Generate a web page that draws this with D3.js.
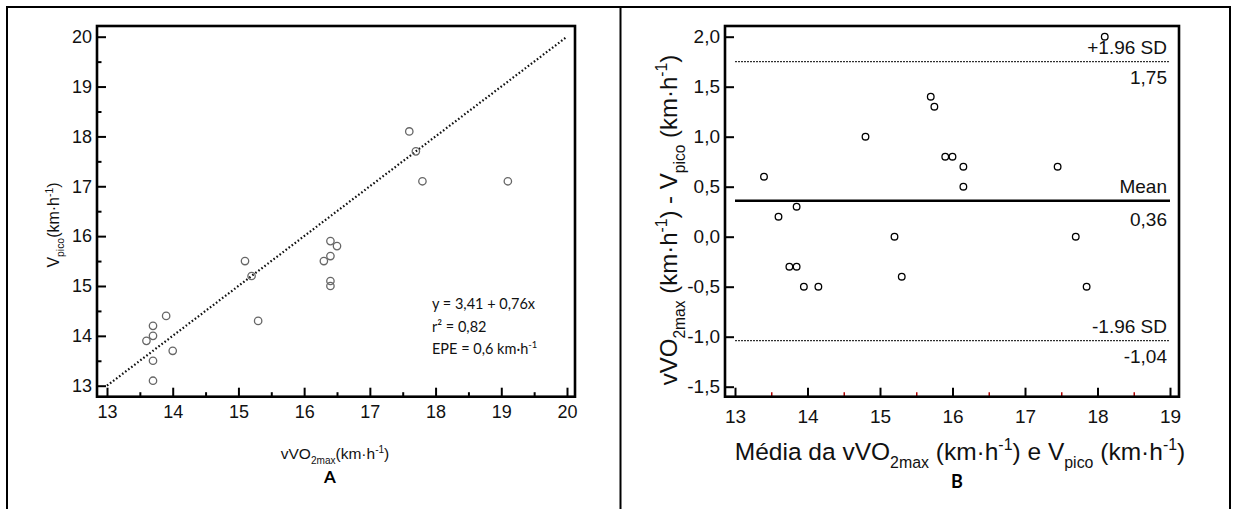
<!DOCTYPE html>
<html><head><meta charset="utf-8">
<script src="https://cdn.jsdelivr.net/npm/d3@7"></script>
<style>body{margin:0;background:#fff} svg{display:block}</style>
</head><body><svg id="c" width="1237" height="509"></svg>
<script>
// ---------- Panel A data ----------
const xTicksA = [13, 14, 15, 16, 17, 18, 19, 20];
const yTicksA = [13, 14, 15, 16, 17, 18, 19, 20];
const minorTicksA = [13.5, 14.5, 15.5, 16.5, 17.5, 18.5, 19.5];
const vvo2max = [17.6, 17.7, 17.8, 19.1, 16.4, 16.5, 16.4, 16.3, 16.4, 16.4, 15.1, 15.2, 15.3, 13.9, 13.7, 13.7, 13.6, 14.0, 13.7, 13.7];
const vpico   = [18.1, 17.7, 17.1, 17.1, 15.9, 15.8, 15.6, 15.5, 15.1, 15.0, 15.5, 15.2, 14.3, 14.4, 14.2, 14.0, 13.9, 13.7, 13.5, 13.1];
const identityLine = [13, 20];
const annotationA = ["y = 3,41 + 0,76x", "r² = 0,82", "EPE = 0,6 km·h"];

// ---------- Panel B data ----------
const xTicksB = [13, 14, 15, 16, 17, 18, 19];
const minorTicksB = [13.5, 14.5, 15.5, 16.5, 17.5, 18.5];
const yTicksB = [-1.5, -1.0, -0.5, 0.0, 0.5, 1.0, 1.5, 2.0];
const meanB = [13.4, 13.6, 13.75, 13.85, 13.85, 13.95, 14.15, 14.8, 15.2, 15.3, 15.7, 15.75, 15.9, 16.0, 16.15, 16.15, 17.45, 17.7, 17.85, 18.1];
const diffB = [0.6, 0.2, -0.3, -0.3, 0.3, -0.5, -0.5, 1.0, 0.0, -0.4, 1.4, 1.3, 0.8, 0.8, 0.7, 0.5, 0.7, 0.0, -0.5, 2.0];
const limitNames  = ["+1.96 SD", "Mean", "-1.96 SD"];
const limitValues = [1.75, 0.36, -1.04];
const limitLabels = ["1,75", "0,36", "-1,04"];
const limitSpan = [13, 19];

// ---------- helpers ----------
const svg = d3.select("#c");
const SANS = "'Liberation Sans', Arial, sans-serif";
const CAL = "Lato, 'Open Sans', sans-serif";
const ptBR = d3.formatLocale({decimal: ",", thousands: ".", grouping: [3], currency: ["", ""], minus: "-"});

function rich(text, parts, size) {
  let shift = 0;
  parts.forEach(([t, kind]) => {
    const target = kind === "sub" ? size * 0.32 : kind === "sup" ? -size * 0.4 : 0;
    text.append("tspan").attr("dy", target - shift)
      .attr("font-size", kind ? size * 0.65 : size).text(t);
    shift = target;
  });
}

// outer border
const border = svg.append("g").attr("stroke", "#000").attr("stroke-width", 2);
border.append("line").attr("x1", 6).attr("x2", 1231).attr("y1", 7).attr("y2", 7);
border.append("line").attr("x1", 7).attr("x2", 7).attr("y1", 6).attr("y2", 509);
border.append("line").attr("x1", 620.5).attr("x2", 620.5).attr("y1", 6).attr("y2", 509);
border.append("line").attr("x1", 1230).attr("x2", 1230).attr("y1", 6).attr("y2", 509);

// ================= Panel A =================
const fA = {l: 97, t: 26, r: 575, b: 396.7};
const xA = d3.scaleLinear().domain([13, 20]).range([107, 567]);
const yA = d3.scaleLinear().domain([13, 20]).range([385.7, 36.7]);
const gA = svg.append("g");

function styleAxis(g, size, family) {
  g.select(".domain").remove();
  g.selectAll("line").attr("stroke", "#000").attr("stroke-width", 2);
  g.selectAll("text").attr("font-family", family).attr("font-size", size).attr("fill", "#111");
}

gA.append("g").attr("transform", `translate(0,${fA.b})`)
  .call(d3.axisBottom(xA).tickValues(xTicksA).tickSize(-9).tickPadding(9).tickFormat(d3.format("d")))
  .call(g => styleAxis(g, 18, SANS));
gA.append("g").attr("transform", `translate(0,${fA.b})`)
  .call(d3.axisBottom(xA).tickValues(minorTicksA).tickSize(-4.5).tickFormat(""))
  .call(g => styleAxis(g, 18, SANS));
gA.append("g").attr("transform", `translate(${fA.l},0)`)
  .call(d3.axisLeft(yA).tickValues(yTicksA).tickSize(-9).tickPadding(5).tickFormat(d3.format("d")))
  .call(g => styleAxis(g, 18, SANS));
gA.append("g").attr("transform", `translate(${fA.l},0)`)
  .call(d3.axisLeft(yA).tickValues(minorTicksA).tickSize(-4.5).tickFormat(""))
  .call(g => styleAxis(g, 18, SANS));

gA.append("rect").attr("x", fA.l).attr("y", fA.t).attr("width", fA.r - fA.l).attr("height", fA.b - fA.t)
  .attr("fill", "none").attr("stroke", "#000").attr("stroke-width", 2.6);

// identity dotted line
gA.append("path")
  .attr("d", d3.line()([[xA(identityLine[0]), yA(identityLine[0])], [xA(identityLine[1]), yA(identityLine[1])]]))
  .attr("stroke", "#111").attr("stroke-width", 2.2).attr("stroke-dasharray", "1.6,2.2").attr("fill", "none");

gA.selectAll("circle.pt").data(vvo2max.map((v, i) => [v, vpico[i]])).join("circle")
  .attr("cx", d => xA(d[0])).attr("cy", d => yA(d[1])).attr("r", 3.7)
  .attr("fill", "none").attr("stroke", "#666").attr("stroke-width", 1.3);

// annotation
const ann = gA.append("g").attr("font-family", CAL).attr("font-size", 14.5).attr("fill", "#111");
ann.append("text").attr("x", 432).attr("y", 309).text(annotationA[0]);
ann.append("text").attr("x", 432).attr("y", 332).text(annotationA[1]);
const epe = ann.append("text").attr("x", 432).attr("y", 354);
rich(epe, [[annotationA[2], ""], ["-1", "sup"]], 14.5);

// axis titles A
const xtA = gA.append("text").attr("x", 335).attr("y", 459).attr("text-anchor", "middle")
  .attr("font-family", SANS).attr("fill", "#111");
rich(xtA, [["vVO", ""], ["2max", "sub"], ["(km·h", ""], ["-1", "sup"], [")", ""]], 15.5);
const ytA = gA.append("text").attr("transform", "translate(59,225) rotate(-90)").attr("text-anchor", "middle")
  .attr("font-family", SANS).attr("fill", "#111");
rich(ytA, [["V", ""], ["pico", "sub"], ["(km·h", ""], ["-1", "sup"], [")", ""]], 16);
gA.append("text").attr("x", 330).attr("y", 483).attr("text-anchor", "middle")
  .attr("font-family", CAL).attr("font-weight", "bold").attr("font-size", 17).text("A");

// ================= Panel B =================
const fB = {l: 725, t: 26, r: 1179, b: 396.7};
const xB = d3.scaleLinear().domain([13, 19]).range([735, 1170]);
const yB = d3.scaleLinear().domain([-1.5, 2.0]).range([386.7, 36.7]);
const gB = svg.append("g");

gB.append("g").attr("transform", `translate(0,${fB.b})`)
  .call(d3.axisBottom(xB).tickValues(xTicksB).tickSize(-9).tickPadding(12.5).tickFormat(d3.format("d")))
  .call(g => styleAxis(g, 19, SANS));
gB.append("g").attr("transform", `translate(0,${fB.b})`)
  .call(d3.axisBottom(xB).tickValues(minorTicksB).tickSize(-4.5).tickFormat(""))
  .call(g => { styleAxis(g, 18, SANS); g.selectAll("line").attr("stroke", "#b00000").attr("stroke-width", 1.5); });
gB.append("g").attr("transform", `translate(${fB.l},0)`)
  .call(d3.axisLeft(yB).tickValues(yTicksB).tickSize(-9).tickPadding(5).tickFormat(ptBR.format(".1f")))
  .call(g => styleAxis(g, 19, SANS));

gB.append("rect").attr("x", fB.l).attr("y", fB.t).attr("width", fB.r - fB.l).attr("height", fB.b - fB.t)
  .attr("fill", "none").attr("stroke", "#000").attr("stroke-width", 2.6);

// limit lines
limitValues.forEach((v, i) => {
  const isMean = i === 1;
  gB.append("line").attr("x1", xB(limitSpan[0])).attr("x2", xB(limitSpan[1]))
    .attr("y1", yB(v)).attr("y2", yB(v))
    .attr("stroke", "#000").attr("stroke-width", isMean ? 2.6 : 1)
    .attr("stroke-dasharray", isMean ? null : "2,1");
  gB.append("text").attr("x", 1167).attr("y", yB(v) - 7.5).attr("text-anchor", "end")
    .attr("font-family", SANS).attr("font-size", 19).attr("fill", "#111").text(limitNames[i]);
  gB.append("text").attr("x", 1167).attr("y", yB(v) + (isMean ? 25 : 22.5)).attr("text-anchor", "end")
    .attr("font-family", SANS).attr("font-size", 19).attr("fill", "#111").text(limitLabels[i]);
});

gB.selectAll("circle.pt").data(meanB.map((v, i) => [v, diffB[i]])).join("circle")
  .attr("cx", d => xB(d[0])).attr("cy", d => yB(d[1])).attr("r", 3.3)
  .attr("fill", "none").attr("stroke", "#000").attr("stroke-width", 1.3);

// axis titles B
const xtB = gB.append("text").attr("x", 960).attr("y", 460).attr("text-anchor", "middle")
  .attr("font-family", SANS).attr("fill", "#111");
rich(xtB, [["Média da vVO", ""], ["2max", "sub"], [" (km·h", ""], ["-1", "sup"], [") e V", ""], ["pico", "sub"], [" (km·h", ""], ["-1", "sup"], [")", ""]], 24.5);
const ytB = gB.append("text").attr("transform", "translate(677,220) rotate(-90)").attr("text-anchor", "middle")
  .attr("font-family", SANS).attr("fill", "#111");
rich(ytB, [["vVO", ""], ["2max", "sub"], [" (km·h", ""], ["-1", "sup"], [") - V", ""], ["pico", "sub"], [" (km·h", ""], ["-1", "sup"], [")", ""]], 24);
gB.append("text").attr("x", 957).attr("y", 488).attr("text-anchor", "middle")
  .attr("font-family", CAL).attr("font-weight", "bold").attr("font-size", 18).text("B");
</script></body></html>
